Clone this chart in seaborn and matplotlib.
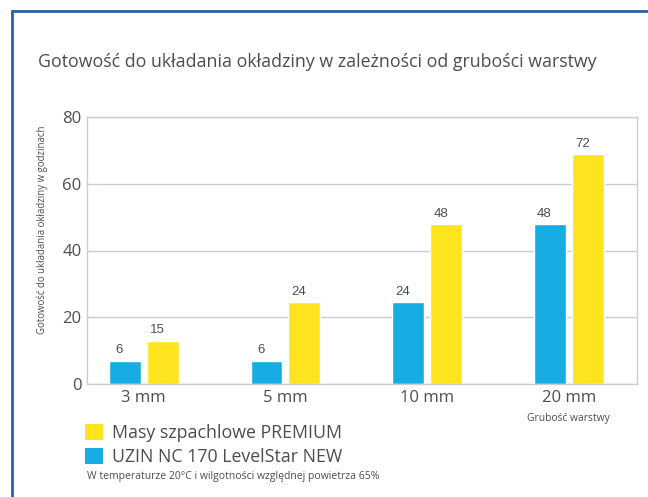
import pandas as pd
import matplotlib.pyplot as plt
import seaborn as sns
from matplotlib.patches import Patch
from matplotlib.lines import Line2D

# data
categories = ["3 mm", "5 mm", "10 mm", "20 mm"]
uzin_heights = [7, 7, 24.5, 48]        # drawn bar heights
masy_heights = [13, 24.5, 48, 69]
uzin_labels = ["6", "6", "24", "48"]   # printed value labels
masy_labels = ["15", "24", "48", "72"]
series = ["UZIN NC 170 LevelStar NEW", "Masy szpachlowe PREMIUM"]

blue = "#17ace3"
yellow = "#fde41f"
text_col = "#4d4d4f"
grid_col = "#c9cdd5"

df = pd.DataFrame({
    "grubosc": categories * 2,
    "godziny": uzin_heights + masy_heights,
    "seria": [series[0]] * 4 + [series[1]] * 4,
})

sns.set_style("white")
plt.rcParams['font.family'] = ['Open Sans', 'DejaVu Sans']

fig = plt.figure(figsize=(6.48, 4.97), dpi=100)
ax = fig.add_axes([87 / 648, 113 / 497, 550 / 648, 267 / 497])

sns.barplot(data=df, x="grubosc", y="godziny", hue="seria", hue_order=series,
            palette=[blue, yellow], width=0.536, gap=0.16, saturation=1,
            legend=False, ax=ax)

ax.set_ylim(0, 80)
ax.set_xlim(-0.40, 3.48)
ax.set_yticks([0, 20, 40, 60, 80])
ax.yaxis.grid(True, color=grid_col, linewidth=1)
ax.set_axisbelow(True)
for s in ax.spines.values():
    s.set_color(grid_col)
    s.set_linewidth(1)
ax.tick_params(axis='both', length=0, labelsize=12, labelcolor=text_col, pad=4)
ax.set_xlabel(None)
ax.set_ylabel(None)

# value labels above bars
all_labels = uzin_labels + masy_labels
for patch, lab in zip(ax.patches, all_labels):
    ax.annotate(lab, (patch.get_x() + patch.get_width() / 2, patch.get_height()),
                xytext=(-4, 3), textcoords="offset points", ha="center", va="bottom",
                fontsize=9.5, color=text_col, family="Liberation Sans")

fig.text(38 / 648, 1 - 62 / 497, "Gotowość do układania okładziny w zależności od grubości warstwy",
         fontsize=12.8, color=text_col, ha="left", va="center")
fig.text(43 / 648, 1 - 230 / 497, "Gotowość do układania okładziny w godzinach",
         rotation=90, fontsize=6.9, color=text_col, ha="center", va="center")
fig.text(568 / 648, 1 - 419 / 497, "Grubość warstwy",
         fontsize=7.4, color=text_col, ha="center", va="center")
fig.text(87 / 648, 1 - 476 / 497, "W temperaturze 20°C i wilgotności względnej powietrza 65%",
         fontsize=7.5, color=text_col, ha="left", va="center")

handles = [Patch(facecolor=yellow, edgecolor="none"), Patch(facecolor=blue, edgecolor="none")]
fig.legend(handles, [series[1], series[0]], loc="upper left",
           bbox_to_anchor=(85 / 648, 1 - 424 / 497), frameon=False,
           fontsize=12.8, labelcolor=text_col, handlelength=1.0, handleheight=1.0,
           handletextpad=0.5, labelspacing=0.32, borderpad=0, borderaxespad=0)

# blue frame (left and top edges visible)
fig.add_artist(Line2D([12 / 648, 12 / 648], [0, 1 - 11 / 497], color="#2d5ea6", linewidth=2))
fig.add_artist(Line2D([12 / 648, 1], [1 - 11 / 497, 1 - 11 / 497], color="#2d5ea6", linewidth=2))

fig.savefig("out.png", dpi=100)
